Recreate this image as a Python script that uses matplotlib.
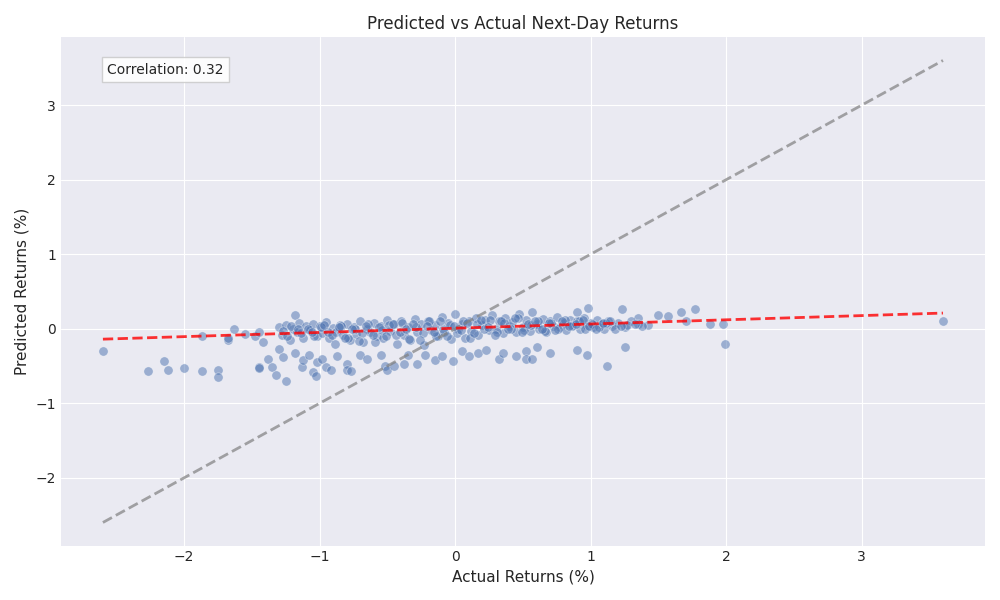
import matplotlib
matplotlib.use("Agg")
import matplotlib.pyplot as plt
import numpy as np

actual = [-2.6,-2.27,-2.15,-2.12,-2.0,-1.87,-1.87,-1.75,-1.75,-1.68,-1.68,-1.63,-1.55,-1.48,-1.45,-1.45,-1.45,-1.42,-1.38,-1.35,-1.32,-1.3,-1.27,-1.25,-1.18,-1.18,-1.13,-1.12,-1.08,-1.05,-1.03,-1.02,-0.98,-0.95,-0.92,-0.87,-0.8,-0.8,-0.77,-0.7,-0.65,-0.55,-0.52,-0.5,-0.45,-0.38,-0.35,-0.28,-0.22,-0.15,-0.1,-0.02,0.05,0.1,0.17,0.23,0.32,0.35,0.45,0.52,0.52,0.57,0.6,0.7,0.9,0.97,1.12,1.25,1.23,0.98,0.9,1.5,1.57,1.67,1.7,1.77,1.88,1.98,1.99,3.6,1.42,1.35,
 -1.3,-1.28,-1.25,-1.22,-1.2,-1.17,-1.15,-1.12,-1.1,-1.07,-1.05,-1.02,-1.0,-0.98,-0.95,-0.93,-0.9,-0.88,-0.85,-0.83,-0.8,-0.78,-0.75,-0.73,-0.7,-0.68,-0.65,-0.63,-0.6,-0.58,-0.55,-0.53,-0.5,-0.48,-0.45,-0.43,-0.4,-0.38,-0.35,-0.33,-0.3,-0.28,-0.25,-0.23,-0.2,-0.18,-0.15,-0.13,-0.1,-0.08,-0.05,-0.03,0.0,0.02,0.05,0.07,0.1,0.12,0.15,0.17,0.2,0.22,0.25,0.27,0.3,0.32,0.35,0.37,0.4,0.42,0.45,0.47,0.5,0.52,0.55,0.57,0.6,0.62,0.65,0.67,0.7,0.72,0.75,0.77,0.8,0.82,0.85,0.87,0.9,0.92,0.95,0.97,1.0,1.02,1.05,1.08,1.1,1.13,1.16,1.2,1.25,1.3,1.35,1.38,
 -1.27,-1.21,-1.14,-1.09,-1.04,-0.99,-0.94,-0.89,-0.84,-0.79,-0.74,-0.69,-0.64,-0.59,-0.54,-0.49,-0.44,-0.39,-0.34,-0.29,-0.24,-0.19,-0.14,-0.09,-0.04,0.01,0.06,0.11,0.16,0.21,0.26,0.31,0.36,0.41,0.46,0.51,0.56,0.61,0.66,0.71,0.76,0.81,0.86,0.91,0.96,1.01,1.06,1.11,1.18,1.27,
 -1.24,-1.16,-1.06,-0.97,-0.91,-0.86,-0.81,-0.76,-0.71,-0.66,-0.61,-0.56,-0.51,-0.46,-0.41,-0.36,-0.31,-0.26,-0.21,-0.16,-0.11,-0.06,-0.01,0.04,0.09,0.14,0.19,0.24,0.29,0.34,0.39,0.44,0.49,0.54,0.59,0.64,0.69,0.74,0.79,0.84,0.89,0.94,0.99,1.04,1.09,1.14,1.22,1.33]
predicted = [-0.3,-0.57,-0.43,-0.55,-0.53,-0.57,-0.1,-0.55,-0.65,-0.15,-0.12,0.0,-0.07,-0.1,-0.52,-0.53,-0.04,-0.18,-0.4,-0.52,-0.62,-0.27,-0.38,-0.7,-0.33,0.19,-0.52,-0.42,-0.35,-0.58,-0.63,-0.45,-0.4,-0.52,-0.55,-0.37,-0.48,-0.55,-0.57,-0.35,-0.4,-0.35,-0.5,-0.55,-0.5,-0.47,-0.35,-0.48,-0.35,-0.42,-0.37,-0.43,-0.3,-0.37,-0.33,-0.28,-0.4,-0.33,-0.37,-0.3,-0.4,-0.4,-0.25,-0.33,-0.28,-0.35,-0.5,-0.24,0.27,0.28,0.22,0.19,0.17,0.22,0.11,0.27,0.07,0.06,-0.2,0.1,0.05,0.15,
 0.02,-0.08,0.05,-0.15,0.0,-0.05,0.08,-0.12,0.03,-0.02,0.06,-0.1,0.04,-0.06,0.09,-0.13,0.01,-0.04,0.05,-0.09,0.07,-0.15,0.02,-0.07,0.1,-0.18,0.0,-0.05,0.08,-0.1,0.04,-0.12,0.12,-0.03,0.06,-0.2,0.1,-0.08,0.02,-0.15,0.13,-0.05,0.07,-0.22,0.11,-0.02,0.05,-0.1,0.16,-0.04,0.08,-0.14,0.2,0.0,0.06,-0.12,0.1,-0.03,0.15,-0.08,0.05,0.12,-0.02,0.18,0.0,0.1,-0.06,0.14,0.03,0.09,-0.04,0.2,0.02,0.12,-0.03,0.22,0.07,0.0,0.13,-0.05,0.1,0.04,0.16,0.02,0.08,-0.02,0.12,0.05,0.1,0.0,0.15,0.04,0.08,0.02,0.12,0.06,0.0,0.1,0.04,0.08,0.02,0.1,0.06,0.04,
 -0.03,0.03,-0.06,0.0,-0.1,0.02,-0.04,-0.2,0.04,-0.12,0.0,-0.06,0.06,-0.18,-0.02,0.05,-0.08,0.08,-0.14,0.02,-0.06,0.1,-0.1,0.0,0.05,-0.06,0.1,-0.12,0.06,0.0,0.12,-0.05,0.08,0.0,0.14,-0.02,0.05,0.1,-0.03,0.08,0.0,0.12,0.04,0.1,0.0,0.06,0.02,0.08,0.0,0.05,
 -0.1,0.0,-0.04,0.05,-0.08,0.02,-0.12,0.0,-0.16,0.04,-0.08,0.02,-0.1,0.07,-0.05,0.0,0.06,-0.15,0.03,-0.05,0.1,-0.1,0.04,-0.02,0.08,-0.06,0.12,0.02,-0.08,0.1,0.0,0.15,-0.04,0.06,0.1,0.0,0.08,-0.02,0.1,0.03,0.06,0.12,0.04,0.0,0.08,0.1,0.04,0.06]

# fitted trend line
trend_x = [-2.6, 3.6]
trend_y = [-0.14, 0.21]
ideal_x = [-2.6, 3.6]

correlation_label = "Correlation: 0.32"

plt.style.use("seaborn-v0_8-darkgrid")
plt.rcParams["font.family"] = "DejaVu Sans"
fig, ax = plt.subplots(figsize=(10, 6), dpi=100)
ax.scatter(actual, predicted, s=45, alpha=0.5, color="#4c72b0", edgecolors="white", linewidths=0.5)
ax.plot(ideal_x, ideal_x, "--", color="gray", alpha=0.7, linewidth=2)
ax.plot(trend_x, trend_y, "--", color="red", alpha=0.8, linewidth=2)
ax.set_xlim(-2.91, 3.91)
ax.set_ylim(-2.91, 3.91)
ax.set_title("Predicted vs Actual Next-Day Returns", fontsize=12)
ax.set_xlabel("Actual Returns (%)", fontsize=11)
ax.set_ylabel("Predicted Returns (%)", fontsize=11)
ax.text(0.05, 0.95, correlation_label, transform=ax.transAxes, fontsize=10,
        va="top", bbox=dict(boxstyle="square,pad=0.4", facecolor="white", edgecolor="#cccccc", alpha=0.9))
fig.tight_layout()
fig.savefig("out.png")
